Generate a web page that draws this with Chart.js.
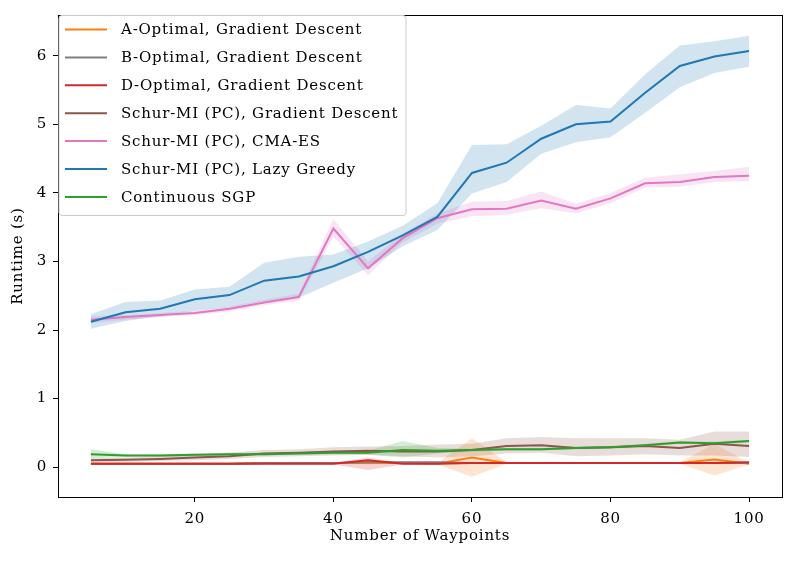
<!DOCTYPE html>
<html>
<head>
<meta charset="utf-8">
<script src="https://cdn.jsdelivr.net/npm/chart.js@4.4.1/dist/chart.umd.min.js"></script>
<style>
  html, body { margin: 0; padding: 0; background: #fff; }
  #wrap { width: 794px; height: 562px; }
</style>
</head>
<body>
<div id="wrap"><canvas id="runtimeChart" width="794" height="562"></canvas></div>
<script>
const waypoints = [5, 10, 15, 20, 25, 30, 35, 40, 45, 50, 55, 60, 65, 70, 75, 80, 85, 90, 95, 100];
const xTicks = [20, 40, 60, 80, 100];
const yTicks = [0, 1, 2, 3, 4, 5, 6];

const labels = [
  'A-Optimal, Gradient Descent',
  'B-Optimal, Gradient Descent',
  'D-Optimal, Gradient Descent',
  'Schur-MI (PC), Gradient Descent',
  'Schur-MI (PC), CMA-ES',
  'Schur-MI (PC), Lazy Greedy',
  'Continuous SGP',
];
const colors = ['#ff7f0e', '#7f7f7f', '#d62728', '#8c564b', '#e377c2', '#1f77b4', '#2ca02c'];

// mean runtime per method (s), with upper / lower edge of the shaded band
const aOptMean = [0.05, 0.05, 0.05, 0.05, 0.05, 0.06, 0.06, 0.06, 0.06, 0.06, 0.05, 0.14, 0.06, 0.06, 0.06, 0.06, 0.06, 0.06, 0.11, 0.05];
const aOptHigh = [0.06, 0.06, 0.06, 0.06, 0.06, 0.07, 0.07, 0.07, 0.08, 0.07, 0.06, 0.42, 0.07, 0.07, 0.07, 0.07, 0.07, 0.07, 0.34, 0.06];
const aOptLow = [0.04, 0.04, 0.04, 0.04, 0.04, 0.05, 0.05, 0.05, 0.04, 0.05, 0.04, -0.14, 0.05, 0.05, 0.05, 0.05, 0.05, 0.05, -0.12, 0.04];

const bOptMean = [0.05, 0.05, 0.05, 0.05, 0.05, 0.06, 0.06, 0.06, 0.07, 0.07, 0.07, 0.06, 0.06, 0.06, 0.06, 0.06, 0.06, 0.06, 0.06, 0.06];
const bOptHigh = [0.06, 0.06, 0.06, 0.06, 0.06, 0.07, 0.07, 0.07, 0.09, 0.09, 0.08, 0.07, 0.07, 0.07, 0.07, 0.07, 0.07, 0.07, 0.07, 0.07];
const bOptLow = [0.04, 0.04, 0.04, 0.04, 0.04, 0.05, 0.05, 0.05, 0.05, 0.05, 0.06, 0.05, 0.05, 0.05, 0.05, 0.05, 0.05, 0.05, 0.05, 0.05];

const dOptMean = [0.05, 0.05, 0.05, 0.05, 0.05, 0.05, 0.05, 0.05, 0.10, 0.05, 0.05, 0.06, 0.06, 0.06, 0.06, 0.06, 0.06, 0.06, 0.06, 0.07];
const dOptHigh = [0.06, 0.06, 0.06, 0.06, 0.06, 0.06, 0.06, 0.06, 0.14, 0.06, 0.06, 0.07, 0.07, 0.07, 0.07, 0.07, 0.07, 0.07, 0.07, 0.08];
const dOptLow = [0.04, 0.04, 0.04, 0.04, 0.04, 0.04, 0.04, 0.04, -0.04, 0.04, 0.04, 0.05, 0.05, 0.05, 0.05, 0.05, 0.05, 0.05, 0.05, 0.06];

const schurGdMean = [0.10, 0.11, 0.12, 0.14, 0.16, 0.20, 0.21, 0.23, 0.24, 0.23, 0.23, 0.25, 0.31, 0.32, 0.28, 0.29, 0.31, 0.28, 0.34, 0.31];
const schurGdHigh = [0.13, 0.14, 0.16, 0.18, 0.21, 0.25, 0.26, 0.29, 0.30, 0.31, 0.33, 0.34, 0.42, 0.44, 0.42, 0.42, 0.42, 0.40, 0.52, 0.52];
const schurGdLow = [0.07, 0.08, 0.09, 0.10, 0.12, 0.15, 0.16, 0.17, 0.18, 0.16, 0.14, 0.16, 0.20, 0.21, 0.16, 0.17, 0.19, 0.17, 0.17, 0.15];

const cmaMean = [2.15, 2.19, 2.22, 2.25, 2.31, 2.40, 2.48, 3.48, 2.90, 3.34, 3.63, 3.76, 3.77, 3.89, 3.77, 3.92, 4.14, 4.16, 4.23, 4.25];
const cmaHigh = [2.20, 2.22, 2.25, 2.28, 2.34, 2.44, 2.53, 3.62, 3.00, 3.40, 3.70, 3.87, 3.88, 4.02, 3.84, 4.00, 4.22, 4.27, 4.32, 4.38];
const cmaLow = [2.10, 2.15, 2.19, 2.22, 2.27, 2.36, 2.43, 3.36, 2.80, 3.28, 3.55, 3.66, 3.68, 3.78, 3.70, 3.85, 4.08, 4.09, 4.16, 4.17];

const greedyMean = [2.12, 2.26, 2.31, 2.45, 2.51, 2.72, 2.78, 2.93, 3.14, 3.38, 3.65, 4.29, 4.44, 4.79, 5.00, 5.04, 5.46, 5.85, 5.99, 6.07];
const greedyHigh = [2.23, 2.41, 2.43, 2.59, 2.63, 2.98, 3.07, 3.10, 3.29, 3.52, 3.85, 4.70, 4.71, 4.98, 5.28, 5.23, 5.73, 6.15, 6.21, 6.29];
const greedyLow = [2.02, 2.13, 2.20, 2.28, 2.33, 2.42, 2.47, 2.69, 2.90, 3.22, 3.46, 3.99, 4.16, 4.57, 4.74, 4.81, 5.17, 5.54, 5.75, 5.84];

const sgpMean = [0.19, 0.17, 0.17, 0.18, 0.19, 0.19, 0.20, 0.21, 0.21, 0.25, 0.24, 0.25, 0.26, 0.26, 0.28, 0.29, 0.32, 0.36, 0.35, 0.38];
const sgpHigh = [0.26, 0.19, 0.19, 0.20, 0.21, 0.21, 0.22, 0.23, 0.24, 0.38, 0.28, 0.27, 0.28, 0.28, 0.30, 0.31, 0.34, 0.38, 0.37, 0.40];
const sgpLow = [0.13, 0.15, 0.15, 0.16, 0.17, 0.17, 0.18, 0.19, 0.18, 0.14, 0.20, 0.23, 0.24, 0.24, 0.26, 0.27, 0.30, 0.34, 0.33, 0.36];

const means = [aOptMean, bOptMean, dOptMean, schurGdMean, cmaMean, greedyMean, sgpMean];
const highs = [aOptHigh, bOptHigh, dOptHigh, schurGdHigh, cmaHigh, greedyHigh, sgpHigh];
const lows = [aOptLow, bOptLow, dOptLow, schurGdLow, cmaLow, greedyLow, sgpLow];

const FONT = '"DejaVu Serif", "Liberation Serif", serif';
const FSIZE = 15;
const SPACING = '0.8px'; // DejaVu is a bit narrower than the LaTeX font of the original

function toXY(arr) {
  return arr.map((v, i) => ({ x: waypoints[i], y: v }));
}
function withAlpha(hex, a) {
  const n = parseInt(hex.slice(1), 16);
  return `rgba(${(n >> 16) & 255}, ${(n >> 8) & 255}, ${n & 255}, ${a})`;
}

// each method: mean line, plus a shaded band (lower edge filled up to upper edge)
const datasets = [];
means.forEach((m, i) => {
  const upperIdx = datasets.length;
  datasets.push({
    label: '_band',
    data: toXY(highs[i]),
    borderWidth: 0,
    pointRadius: 0,
    fill: false,
    order: 20 + (7 - i),
  });
  datasets.push({
    label: '_band',
    data: toXY(lows[i]),
    borderWidth: 0,
    pointRadius: 0,
    backgroundColor: withAlpha(colors[i], 0.2),
    fill: { target: upperIdx },
    order: 20 + (7 - i),
  });
  datasets.push({
    label: labels[i],
    data: toXY(m),
    borderColor: colors[i],
    backgroundColor: colors[i],
    borderWidth: 2,
    pointRadius: 0,
    fill: false,
    order: 7 - i,
  });
});

const spacing = {
  id: 'spacing',
  beforeInit(chart) { chart.ctx.letterSpacing = SPACING; },
  beforeUpdate(chart) { chart.ctx.letterSpacing = SPACING; },
  beforeDraw(chart) { chart.ctx.letterSpacing = SPACING; },
};

// axes box (all four spines, matplotlib style)
const frame = {
  id: 'frame',
  afterDraw(chart) {
    const { ctx, chartArea: a } = chart;
    ctx.save();
    ctx.strokeStyle = '#000';
    ctx.lineWidth = 1;
    ctx.strokeRect(Math.round(a.left) + 0.5, Math.round(a.top) + 0.5, Math.round(a.right - a.left), Math.round(a.bottom - a.top));
    ctx.restore();
  },
};

// legend box in upper-left corner of axes
const cornerLegend = {
  id: 'cornerLegend',
  afterDraw(chart) {
    const { ctx, chartArea: a } = chart;
    const items = chart.data.datasets.filter((d) => d.label !== '_band');
    const x0 = a.left + 1, y0 = a.top + 0.5, w = 347, h = 200;
    ctx.save();
    ctx.letterSpacing = SPACING;
    ctx.fillStyle = 'rgba(255,255,255,0.8)';
    ctx.strokeStyle = '#cccccc';
    ctx.lineWidth = 1;
    ctx.beginPath();
    ctx.roundRect(x0, y0, w, h, 3);
    ctx.fill();
    ctx.stroke();
    ctx.font = `${FSIZE}px ${FONT}`;
    ctx.textBaseline = 'middle';
    ctx.fillStyle = '#000';
    items.forEach((d, i) => {
      const y = y0 + 14 + i * 27.9;
      ctx.strokeStyle = d.borderColor;
      ctx.lineWidth = 2;
      ctx.beginPath();
      ctx.moveTo(x0 + 6, y);
      ctx.lineTo(x0 + 48, y);
      ctx.stroke();
      ctx.fillText(d.label, x0 + 62, y + 1);
    });
    ctx.restore();
  },
};

new Chart(document.getElementById('runtimeChart'), {
  type: 'line',
  data: { datasets },
  options: {
    responsive: false,
    animation: false,
    devicePixelRatio: 1,
    layout: { padding: { top: 12, right: 12, left: 0, bottom: 0 } },
    plugins: { legend: { display: false }, tooltip: { enabled: false } },
    scales: {
      x: {
        type: 'linear',
        min: 0.25,
        max: 104.75,
        afterBuildTicks: (s) => { s.ticks = xTicks.map((v) => ({ value: v })); },
        afterFit: (s) => { s.height = 65; },
        grid: { drawOnChartArea: false, tickLength: 5, color: '#000', tickWidth: 1 },
        border: { display: true, color: '#000' },
        ticks: { color: '#000', font: { family: FONT, size: FSIZE }, padding: 8, maxRotation: 0 },
        title: { display: true, text: 'Number of Waypoints', color: '#000', font: { family: FONT, size: FSIZE }, padding: { top: 0, bottom: 17 } },
      },
      y: {
        type: 'linear',
        min: -0.435,
        max: 6.594,
        afterBuildTicks: (s) => { s.ticks = yTicks.map((v) => ({ value: v })); },
        afterFit: (s) => { s.width = 58; },
        grid: { drawOnChartArea: false, tickLength: 5, color: '#000', tickWidth: 1 },
        border: { display: true, color: '#000' },
        ticks: { color: '#000', font: { family: FONT, size: FSIZE }, padding: 6 },
        title: { display: true, text: 'Runtime (s)', color: '#000', font: { family: FONT, size: FSIZE }, padding: { top: 9, bottom: 0 } },
      },
    },
  },
  plugins: [spacing, frame, cornerLegend],
});
</script>
</body>
</html>
